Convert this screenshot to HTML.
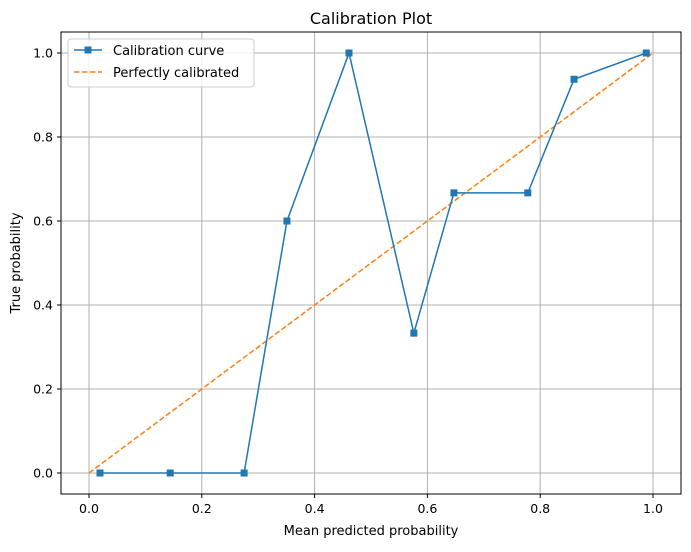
<!DOCTYPE html>
<html><head><meta charset="utf-8">
<style>
body{margin:0;background:#fff;font-family:"Liberation Sans","DejaVu Sans",sans-serif;}
svg text{font-family:"DejaVu Sans","Liberation Sans",sans-serif;}
</style></head>
<body>
<svg id="chart" width="691" height="547">
<rect width="691" height="547" fill="#fff"/>
<text x="371" y="24" font-size="16" text-anchor="middle">Calibration Plot</text>
<g id="grid"></g>
<g id="ticks"></g>
<g id="series"></g>
<rect x="61" y="32" width="620" height="462" fill="none" stroke="#000" stroke-width="1"/>
<text x="371" y="535" font-size="13" text-anchor="middle">Mean predicted probability</text>
<text x="20" y="263" font-size="13" text-anchor="middle" transform="rotate(-90 20 263)">True probability</text>
<g>
<rect x="68" y="39" width="186" height="48" rx="3" fill="#fff" fill-opacity="0.8" stroke="#ccc"/>
<g>
<line x1="74" y1="50" x2="102" y2="50" stroke="#1f77b4" stroke-width="1.5"/>
<rect x="84.5" y="46.5" width="7" height="7" fill="#1f77b4"/>
<text x="113" y="55" font-size="13">Calibration curve</text></g>
<g>
<line x1="74" y1="72" x2="102" y2="72" stroke="#ff7f0e" stroke-width="1.5" stroke-dasharray="5.5,2.5"/>
<text x="113" y="77" font-size="13">Perfectly calibrated</text></g>
</g>
</svg>
<script>
const xValues=[0.0195,0.144,0.275,0.351,0.461,0.576,0.647,0.778,0.860,0.988];
const yValues=[0,0,0,0.6,1,0.333,0.667,0.667,0.9375,1];
const perfectX=[0,1];
const perfectY=[0,1];
const tickValues=[0,0.2,0.4,0.6,0.8,1.0];
const tickLabels=["0.0","0.2","0.4","0.6","0.8","1.0"];
const NS="http://www.w3.org/2000/svg";
const sx=v=>89+v*564;
const sy=v=>473-v*420;
function mk(tag,attrs,parent){const e=document.createElementNS(NS,tag);for(const k in attrs)e.setAttribute(k,attrs[k]);parent.appendChild(e);return e;}
const grid=document.getElementById('grid'),ticks=document.getElementById('ticks'),series=document.getElementById('series');
tickValues.forEach((t,i)=>{
 let g=mk('line',{x1:sx(t),x2:sx(t),y1:32,y2:494,stroke:'#b0b0b0','stroke-width':1},grid);
 
 
 g=mk('line',{x1:61,x2:681,y1:sy(t),y2:sy(t),stroke:'#b0b0b0','stroke-width':1},grid);
 
 
 mk('line',{x1:sx(t),x2:sx(t),y1:494,y2:498,stroke:'#000'},ticks);
 let tx=mk('text',{x:sx(t),y:513,'font-size':12.5,'text-anchor':'middle'},ticks);
 tx.textContent=tickLabels[i];
 
 
 mk('line',{x1:57,x2:61,y1:sy(t),y2:sy(t),stroke:'#000'},ticks);
 let ty=mk('text',{x:53,y:sy(t)+4.5,'font-size':12.5,'text-anchor':'end'},ticks);
 ty.textContent=tickLabels[i];
 
 
});
let pl=mk('polyline',{points:perfectX.map((x,i)=>sx(x)+','+sy(perfectY[i])).join(' '),fill:'none',stroke:'#ff7f0e','stroke-width':1.5,'stroke-dasharray':'5.5,2.5'},series);


let cl=mk('polyline',{points:xValues.map((x,i)=>sx(x)+','+sy(yValues[i])).join(' '),fill:'none',stroke:'#1f77b4','stroke-width':1.5},series);


xValues.forEach((x,i)=>{
 let m=mk('rect',{x:sx(x)-3.5,y:sy(yValues[i])-3.5,width:7,height:7,fill:'#1f77b4'},series);
 
 
});
</script>
</body></html>
